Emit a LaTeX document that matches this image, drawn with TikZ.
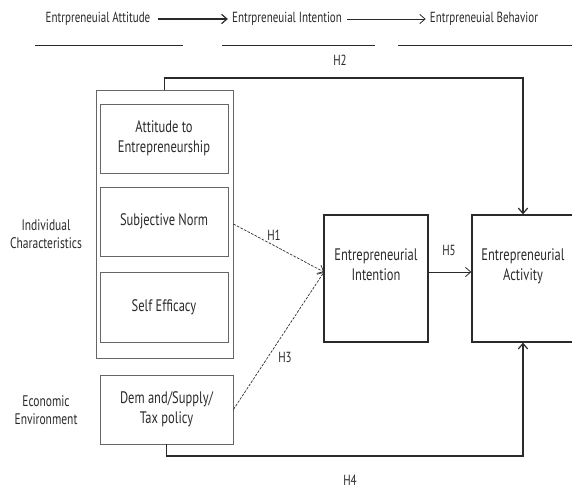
\documentclass[tikz,border=0pt]{standalone}
\usepackage{fontspec}
\setmainfont{PT Sans}[FakeStretch=0.75]
\usepackage{tikz}
\usepackage{xcolor}
\usetikzlibrary{arrows.meta,positioning}
\definecolor{inkgray}{HTML}{2A2A2A}
\definecolor{boxgray}{HTML}{666666}
\tikzset{
	lightbox/.style={draw=boxgray, line width=0.6pt, inner sep=0pt, align=center, text=inkgray, font=\fontsize{12.5}{15}\selectfont},
	darkbox/.style={draw=inkgray, line width=1pt, inner sep=0pt, align=center, text=inkgray, font=\fontsize{12.5}{15}\selectfont},
	lbl/.style={text=inkgray, align=center, inner sep=1pt},
	link/.style={draw=inkgray, line width=0.9pt, -{Straight Barb[length=4pt,width=7pt]}},
	dlink/.style={draw=inkgray, line width=0.5pt, dashed, dash pattern=on 2pt off 1pt, -{Straight Barb[length=4pt,width=7pt]}}
}

\begin{document}
\begin{tikzpicture}[x=0.75pt,y=-0.75pt, font=\fontsize{11}{13.5}\selectfont]
		\useasboundingbox (0,0) rectangle (572,492);
		\node[lbl] (att) at (98,19) {Entrpreneuial Attitude};
		\node[lbl] (int) at (287,19) {Entrpreneuial Intention};
		\node[lbl] (beh) at (484,19) {Entrpreneuial Behavior};
		\draw[link] (att.east) ++(6,0) -- ([xshift=-2pt]int.west);
		\draw[link, line width=0.6pt] (int.east) ++(4,0) -- ([xshift=-2pt]beh.west);
		\draw[inkgray, line width=0.6pt] (35,45) -- (183,45);
		\draw[inkgray, line width=0.6pt] (222,45) -- (375,45);
		\draw[inkgray, line width=0.6pt] (398,45) -- (574,45);

		\node[lightbox, minimum width=102.75pt, minimum height=201pt] (ichar) at (164.5,224) {};
		\node[lightbox, minimum width=96pt, minimum height=51.75pt] (attent) at (164,138.5) {Attitude to\\Entrepreneurship};
		\node[lightbox, minimum width=96pt, minimum height=51.75pt] (subj) at (164,221.5) {Subjective Norm};
		\node[lightbox, minimum width=96pt, minimum height=52.5pt] (self) at (164,307) {Self Efficacy};
		\node[lightbox, minimum width=99.75pt, minimum height=51.75pt] (econ) at (166.5,409.5) {Dem and/Supply/\\Tax policy};
		\node[darkbox, minimum width=78pt, minimum height=95.25pt] (intent) at (376,278.5) {Entrepreneurial\\Intention\\[6pt]};
		\node[darkbox, minimum width=76.5pt, minimum height=95.25pt] (act) at (523,278.5) {Entrepreneurial\\Activity\\[6pt]};

		\node[lbl, font=\fontsize{11.5}{14}\selectfont] (ichartxt) at (46,234) {Individual\\Characteristics};
		\node[lbl, font=\fontsize{11.5}{14}\selectfont] (econtxt) at (46,410) {Economic\\Environment};

		\coordinate (h2c) at (523,78);
		\coordinate (h4c) at (523,456);
		\coordinate (ientry) at (324,272);
		\draw[link] (ichar.north) |- (h2c) -- (act.north);
		\draw[link] (econ.south) |- (h4c) -- (act.south);
		\draw[dlink] (ichar.east) -- (ientry);
		\draw[dlink] (econ.east) -- (ientry);
		\draw[link, line width=0.6pt] (intent.east |- ientry) -- (act.west |- ientry);

		\node[lbl] (h1) at (274,235) {H1};
		\node[lbl] (h2) at (340,60) {H2};
		\node[lbl] (h3) at (285,357) {H3};
		\node[lbl] (h4) at (350,480) {H4};
		\node[lbl] (h5) at (449,250) {H5};
	\end{tikzpicture}
\end{document}
